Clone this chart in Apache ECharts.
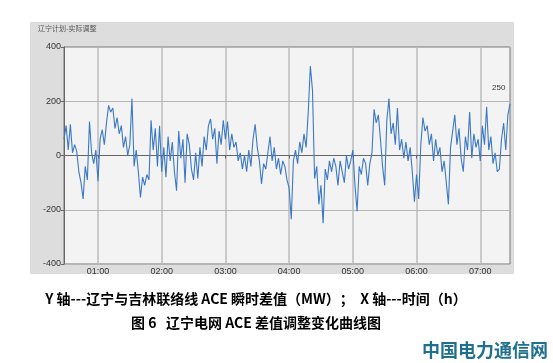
<!DOCTYPE html>
<html>
<head>
<meta charset="utf-8">
<script src="https://cdn.jsdelivr.net/npm/echarts@6/dist/echarts.min.js"></script>
<style>
html,body{margin:0;padding:0;background:#fff;}
#c{width:553px;height:363px;}
</style>
</head>
<body>
<div id="c"></div>
<script>
// time axis: first sample 00:28, one sample every 2 minutes
const startMinute = 28;
const stepMinutes = 2;
// ACE instantaneous difference (MW)
const aceValues = [
  60,110,20,115,10,40,15,-60,-100,-160,
  -40,-90,125,10,-30,20,-95,60,95,40,
  120,185,160,175,100,140,80,110,30,70,
  0,40,210,-40,20,-60,-155,-80,-110,-70,
  -90,130,20,100,-40,110,-60,30,-80,70,
  -20,50,-60,-130,90,-10,60,-100,80,40,
  -50,-90,10,-85,30,-40,70,20,110,135,
  60,100,-30,90,40,130,60,125,20,80,
  30,50,-20,10,-50,0,-60,20,-40,60,
  115,30,-20,-105,-30,-50,10,70,-20,30,
  -50,-10,-70,-20,-40,-90,-120,-235,-20,20,
  -30,50,10,80,30,160,330,240,-85,-40,
  -180,-110,-250,-50,-90,-20,-60,-10,-40,-110,
  -20,-60,-100,0,-50,-20,20,-110,-205,-40,
  -70,-10,-30,-110,-30,10,170,120,150,60,
  -40,-110,130,210,80,120,40,175,20,60,
  -10,50,-20,30,-60,-170,-70,-160,40,140,
  90,110,40,80,-20,60,0,30,-60,-20,
  -100,-180,30,90,150,40,100,-10,-60,70,
  20,160,-10,80,30,60,-20,110,40,180,
  20,70,-30,10,-60,-50,60,120,20,150,
  190
];
const yTicks = [-400, -200, 0, 200, 400];
const chartTitle = '辽宁计划-实际调整';
const endLabel = '250';
const captionLine1 = 'Y 轴---辽宁与吉林联络线 ACE 瞬时差值（MW）；  X 轴---时间（h）';
const captionLine2 = '图 6   辽宁电网 ACE 差值调整变化曲线图';
const watermark = '中国电力通信网';

const times = aceValues.map((_, i) => {
  const m = startMinute + i * stepMinutes;
  const hh = String(Math.floor(m / 60)).padStart(2, '0');
  const mm = String(m % 60).padStart(2, '0');
  return hh + ':' + mm;
});
const isHour = (idx, val) => String(val).endsWith(':00');

const chart = echarts.init(document.getElementById('c'), null, {renderer: 'canvas'});
chart.setOption({
  animation: false,
  backgroundColor: '#ffffff',
  graphic: [
    {type: 'rect', z: -10, shape: {x: 30, y: 22, width: 484, height: 252}, style: {fill: '#dddddd'}},
    {type: 'text', left: 38, top: 25, style: {text: chartTitle, fontSize: 7, fill: '#555', fontFamily: 'Noto Sans CJK SC'}},
    {type: 'text', left: 492, top: 84, style: {text: endLabel, fontSize: 8, fill: '#333', fontFamily: 'Liberation Sans'}},
    {type: 'text', x: 256, y: 299, style: {text: captionLine1, fontSize: 14, fontWeight: 'bold', fill: '#000', fontFamily: 'Noto Sans CJK SC', align: 'center', verticalAlign: 'middle'}},
    {type: 'text', x: 256, y: 323, style: {text: captionLine2, fontSize: 14, fontWeight: 'bold', fill: '#000', fontFamily: 'Noto Sans CJK SC', align: 'center', verticalAlign: 'middle'}},
    {type: 'text', x: 548, y: 350, style: {text: watermark, fontSize: 18, fontWeight: 'bold', fill: '#1f6f8f', fontFamily: 'Noto Sans CJK SC', align: 'right', verticalAlign: 'middle'}}
  ],
  grid: {
    left: 64, right: 43, top: 47, bottom: 99,
    show: true, backgroundColor: '#f3f3f3', borderColor: '#777', borderWidth: 1
  },
  xAxis: {
    type: 'category',
    data: times,
    boundaryGap: false,
    axisLine: {lineStyle: {color: '#666'}},
    axisTick: {show: true, interval: isHour, length: 3, lineStyle: {color: '#666'}},
    axisLabel: {interval: isHour, fontSize: 9, color: '#333', margin: 3, fontFamily: 'Liberation Sans'},
    splitLine: {show: true, interval: isHour, lineStyle: {color: '#bdbdbd', width: 1.5}}
  },
  yAxis: {
    type: 'value',
    min: yTicks[0], max: yTicks[yTicks.length - 1], interval: 200,
    axisLine: {show: true, lineStyle: {color: '#666'}},
    axisTick: {show: true, length: 3, lineStyle: {color: '#666'}},
    axisLabel: {fontSize: 9, color: '#333', margin: 3, fontFamily: 'Liberation Sans'},
    splitLine: {show: true, lineStyle: {color: '#b5b5b5', width: 1}}
  },
  series: [{
    type: 'line',
    data: aceValues,
    showSymbol: false,
    lineStyle: {color: '#3b78c6', width: 1.1},
    itemStyle: {color: '#3b78c6'}
  }]
});
</script>
</body>
</html>
